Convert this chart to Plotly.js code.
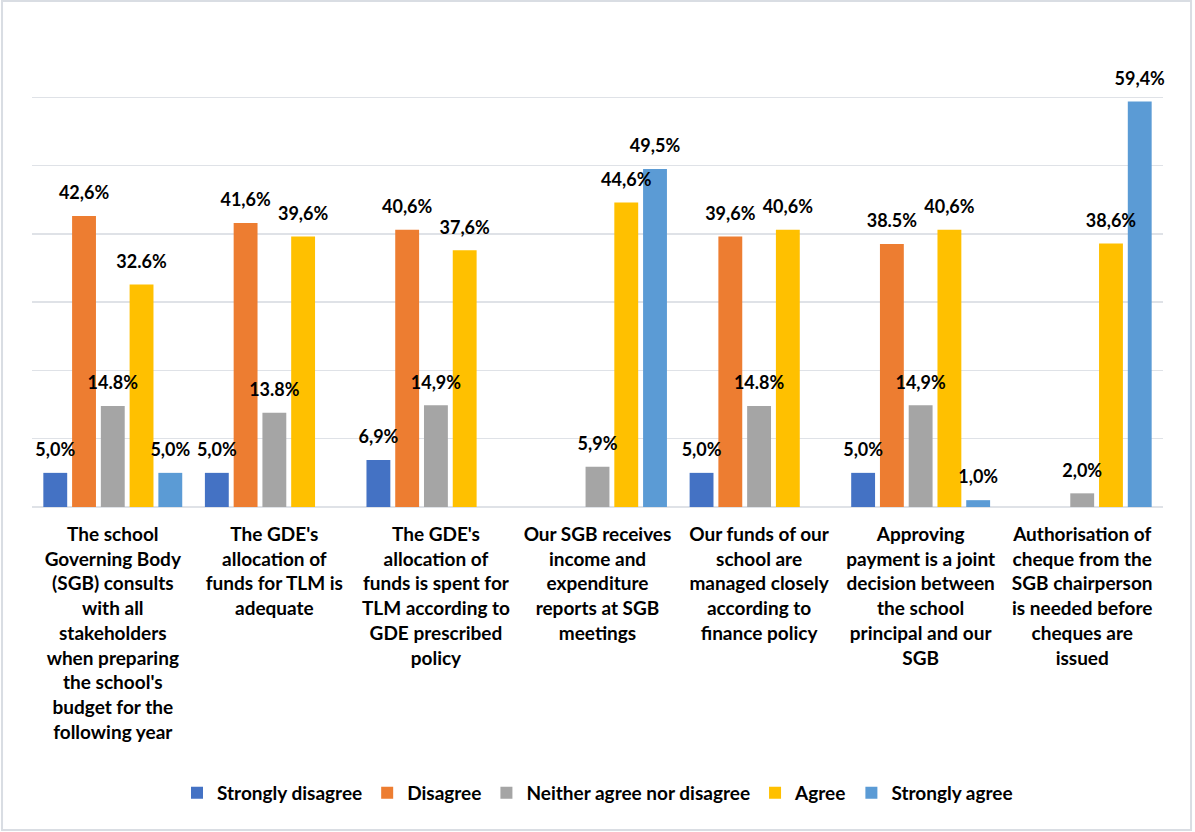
<!DOCTYPE html>
<html>
<head>
<meta charset="utf-8">
<script src="https://cdn.plot.ly/plotly-3.0.1.min.js"></script>
<style>
html,body{margin:0;padding:0;background:#fff;}
#chart{width:1195px;height:832px;}
</style>
</head>
<body>
<div id="chart"></div>
<script>
const categories = [
  "The school<br>Governing Body<br>(SGB) consults<br>with all<br>stakeholders<br>when preparing<br>the school's<br>budget for the<br>following year",
  "The GDE's<br>allocation of<br>funds for TLM is<br>adequate",
  "The GDE's<br>allocation of<br>funds is spent for<br>TLM according to<br>GDE prescribed<br>policy",
  "Our SGB receives<br>income and<br>expenditure<br>reports at SGB<br>meetings",
  "Our funds of our<br>school are<br>managed closely<br>according to<br>finance policy",
  "Approving<br>payment is a joint<br>decision between<br>the school<br>principal and our<br>SGB",
  "Authorisation of<br>cheque from the<br>SGB chairperson<br>is needed before<br>cheques are<br>issued"
];
const seriesNames = ["Strongly disagree", "Disagree", "Neither agree nor disagree", "Agree", "Strongly agree"];

const stronglyDisagree = [5.0, 5.0, 6.9, null, 5.0, 5.0, null];
const disagree         = [42.6, 41.6, 40.6, null, 39.6, 38.5, null];
const neither          = [14.8, 13.8, 14.9, 5.9, 14.8, 14.9, 2.0];
const agree            = [32.6, 39.6, 37.6, 44.6, 40.6, 40.6, 38.6];
const stronglyAgree    = [5.0, null, null, 49.5, null, 1.0, 59.4];

const stronglyDisagreeLabels = ["5,0%", "5,0%", "6,9%", "", "5,0%", "5,0%", ""];
const disagreeLabels         = ["42,6%", "41,6%", "40,6%", "", "39,6%", "38.5%", ""];
const neitherLabels          = ["14.8%", "13.8%", "14,9%", "5,9%", "14.8%", "14,9%", "2,0%"];
const agreeLabels            = ["32.6%", "39,6%", "37,6%", "44,6%", "40,6%", "40,6%", "38,6%"];
const stronglyAgreeLabels    = ["5,0%", "", "", "49,5%", "", "1,0%", "59,4%"];

const colors = ["#4472C4", "#ED7D31", "#A5A5A5", "#FFC000", "#5B9BD5"];

const values = [stronglyDisagree, disagree, neither, agree, stronglyAgree];
const labels = [stronglyDisagreeLabels, disagreeLabels, neitherLabels, agreeLabels, stronglyAgreeLabels];

const FONT = "Lato, 'Open Sans', sans-serif";

const traces = [];
values.forEach((vals, i) => {
  traces.push({
    type: "bar",
    name: seriesNames[i],
    x: categories,
    y: vals,
    marker: {color: colors[i]},
    hoverinfo: "skip"
  });
});
values.forEach((vals, i) => {
  traces.push({
    type: "scatter",
    mode: "markers+text",
    x: categories,
    y: vals,
    text: labels[i],
    textposition: "top center",
    textfont: {family: FONT, size: 18, color: "#000", weight: "bold"},
    marker: {size: 18, opacity: 0, color: colors[i]},
    showlegend: false,
    hoverinfo: "skip",
    cliponaxis: false
  });
});

const layout = {
  width: 1195,
  height: 832,
  margin: {l: 32, r: 32, t: 29, b: 325},
  paper_bgcolor: "#fff",
  plot_bgcolor: "#fff",
  barmode: "group",
  bargap: 0.11,
  bargroupgap: 0.17,
  scattermode: "group",
  scattergap: 0.11,
  font: {family: FONT, color: "#000"},
  xaxis: {
    type: "category",
    showgrid: false,
    showline: false,
    ticks: "",
    tickfont: {family: FONT, size: 19, color: "#000", weight: "bold"},
    tickangle: 0,
    ticklabelstandoff: 14,
    automargin: false
  },
  yaxis: {
    range: [0, 70],
    dtick: 10,
    showticklabels: false,
    showgrid: true,
    gridcolor: "#dfe2e7",
    gridwidth: 1.5,
    zeroline: true,
    zerolinecolor: "#dfe2e7",
    zerolinewidth: 1.5,
    fixedrange: true
  },
  legend: {
    orientation: "h",
    x: 0.5,
    xanchor: "center",
    y: -0.598,
    yanchor: "middle",
    font: {family: FONT, size: 19, color: "#000", weight: "bold"},
    itemclick: false
  },
  shapes: [{
    type: "rect",
    xref: "paper", yref: "paper",
    x0: -0.0265, x1: 1.0248, y0: -0.6757, y1: 1.0586,
    line: {color: "#d9dde3", width: 2},
    fillcolor: "rgba(0,0,0,0)",
    layer: "below"
  }]
};

Plotly.newPlot("chart", traces, layout, {displayModeBar: false, staticPlot: true});
</script>
</body>
</html>
